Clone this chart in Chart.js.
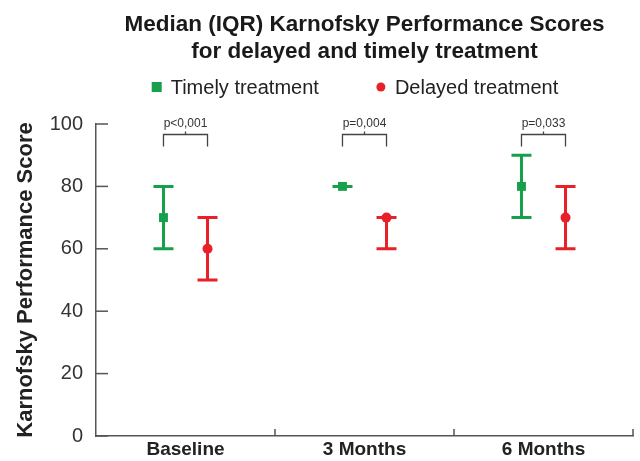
<!DOCTYPE html>
<html>
<head>
<meta charset="utf-8">
<script src="https://cdn.jsdelivr.net/npm/chart.js@4.4.0/dist/chart.umd.min.js"></script>
<style>
html,body{margin:0;padding:0;background:#fff;}
#wrap{width:640px;height:461px;}
</style>
</head>
<body>
<div id="wrap"><canvas id="c" width="640" height="461"></canvas></div>
<script>
const categories = ['Baseline', '3 Months', '6 Months'];
const timelyMedian = [70, 80, 80];
const timelyLow = [60, 80, 70];
const timelyHigh = [80, 80, 90];
const delayedMedian = [60, 70, 70];
const delayedLow = [50, 60, 60];
const delayedHigh = [70, 70, 80];
const pLabels = ['p<0,001', 'p=0,004', 'p=0,033'];
const yTicks = [0, 20, 40, 60, 80, 100];

const GREEN = '#17a04b';
const RED = '#e8202a';
const AXIS = '#555555';
const OFF = 0.123;
const FONT = '"Liberation Sans", Arial, Helvetica, sans-serif';

const timelyPts = timelyMedian.map((v, i) => ({x: i - OFF, y: v}));
const delayedPts = delayedMedian.map((v, i) => ({x: i + OFF, y: v}));
const lows = [timelyLow, delayedLow];
const highs = [timelyHigh, delayedHigh];

const decor = {
  id: 'decor',
  beforeDatasetsDraw(chart) {
    const {ctx, scales: {x, y}} = chart;
    ctx.save();
    chart.data.datasets.forEach((ds, di) => {
      ctx.strokeStyle = ds.borderColor;
      ctx.lineWidth = 3;
      ds.data.forEach((p, i) => {
        const px = x.getPixelForValue(p.x);
        const yl = y.getPixelForValue(lows[di][i]);
        const yh = y.getPixelForValue(highs[di][i]);
        ctx.beginPath();
        ctx.moveTo(px, yl); ctx.lineTo(px, yh);
        ctx.moveTo(px - 10, yl); ctx.lineTo(px + 10, yl);
        ctx.moveTo(px - 10, yh); ctx.lineTo(px + 10, yh);
        ctx.stroke();
      });
    });
    ctx.restore();
  },
  afterDraw(chart) {
    const {ctx, chartArea: a, scales: {x, y}} = chart;
    ctx.save();
    // inward ticks
    ctx.strokeStyle = AXIS;
    ctx.lineWidth = 1.5;
    yTicks.forEach(v => {
      const py = y.getPixelForValue(v);
      ctx.beginPath(); ctx.moveTo(a.left, py); ctx.lineTo(a.left + 12, py); ctx.stroke();
    });
    [0.5, 1.5, 2.5].forEach(v => {
      const px = x.getPixelForValue(v);
      ctx.beginPath(); ctx.moveTo(px, a.bottom); ctx.lineTo(px, a.bottom - 7); ctx.stroke();
    });
    // p-value brackets
    ctx.strokeStyle = '#444';
    ctx.lineWidth = 1.3;
    ctx.fillStyle = '#333';
    ctx.font = '12px ' + FONT;
    ctx.textAlign = 'center';
    ctx.textBaseline = 'middle';
    pLabels.forEach((t, i) => {
      const x1 = x.getPixelForValue(i - OFF);
      const x2 = x.getPixelForValue(i + OFF);
      const yb = a.top + 10.5, yd = a.top + 22.5;
      const xm = (x1 + x2) / 2;
      ctx.beginPath();
      ctx.moveTo(x1, yd); ctx.lineTo(x1, yb); ctx.lineTo(x2, yb); ctx.lineTo(x2, yd);
      ctx.moveTo(xm, yb); ctx.lineTo(xm, yb - 3);
      ctx.stroke();
      ctx.fillText(t, xm, a.top);
    });
    // legend
    ctx.font = '20px ' + FONT;
    ctx.textAlign = 'left';
    const items = chart.data.datasets.map(d => ({text: d.label, color: d.backgroundColor, style: d.pointStyle}));
    const half = 6, toText = 14, sep = 62;
    const tw = items.map(it => ctx.measureText(it.text).width);
    const total = half + toText + tw[0] + sep + toText + tw[1];
    let cx = (a.left + a.right) / 2 - 10 - total / 2 + half;
    const ly = 87;
    items.forEach((it, i) => {
      ctx.fillStyle = it.color;
      if (it.style === 'rect') {
        ctx.fillRect(cx - 5, ly - 5, 10, 10);
      } else {
        ctx.beginPath(); ctx.arc(cx, ly, 4.5, 0, Math.PI * 2); ctx.fill();
      }
      ctx.fillStyle = '#222';
      ctx.fillText(it.text, cx + toText, ly + 1);
      cx += toText + tw[i] + sep;
    });
    ctx.restore();
  }
};

new Chart(document.getElementById('c'), {
  type: 'scatter',
  data: {
    datasets: [
      {label: 'Timely treatment', data: timelyPts, backgroundColor: GREEN, borderColor: GREEN,
       pointStyle: 'rect', pointRadius: 6.3, pointBorderWidth: 0, pointHoverRadius: 6.3},
      {label: 'Delayed treatment', data: delayedPts, backgroundColor: RED, borderColor: RED,
       pointStyle: 'circle', pointRadius: 5, pointBorderWidth: 0, pointHoverRadius: 5}
    ]
  },
  plugins: [decor],
  options: {
    responsive: false,
    animation: false,
    layout: {padding: {left: 0, right: 7, top: 0, bottom: 0}},
    plugins: {
      legend: {display: false},
      tooltip: {enabled: false},
      title: {
        display: true,
        fullSize: false,
        text: ['Median (IQR) Karnofsky Performance Scores', 'for delayed and timely treatment'],
        font: {family: FONT, size: 22.5, weight: 'bold', lineHeight: 1.2},
        color: '#1a1a1a',
        padding: {top: 11, bottom: 59}
      }
    },
    scales: {
      x: {
        type: 'linear', min: -0.5, max: 2.5,
        afterBuildTicks(s) { s.ticks = categories.map((c, i) => ({value: i})); },
        afterFit(s) { s.height = 24; },
        ticks: {
          callback: (v) => categories[Math.round(v)],
          font: {family: FONT, size: 19, weight: 'bold'}, color: '#222', padding: 2, maxRotation: 0
        },
        grid: {display: false, drawTicks: false},
        border: {display: true, color: AXIS, width: 1.5}
      },
      y: {
        min: 0, max: 100,
        afterBuildTicks(s) { s.ticks = yTicks.map(v => ({value: v})); },
        afterFit(s) { s.width = 96; },
        ticks: {font: {family: FONT, size: 20}, color: '#333', padding: 13},
        grid: {display: false, drawTicks: false},
        border: {display: true, color: AXIS, width: 1.5},
        title: {
          display: true, text: 'Karnofsky Performance Score',
          font: {family: FONT, size: 22, weight: 'bold'}, color: '#222',
          padding: {top: 13, bottom: 0}
        }
      }
    }
  }
});
</script>
</body>
</html>
